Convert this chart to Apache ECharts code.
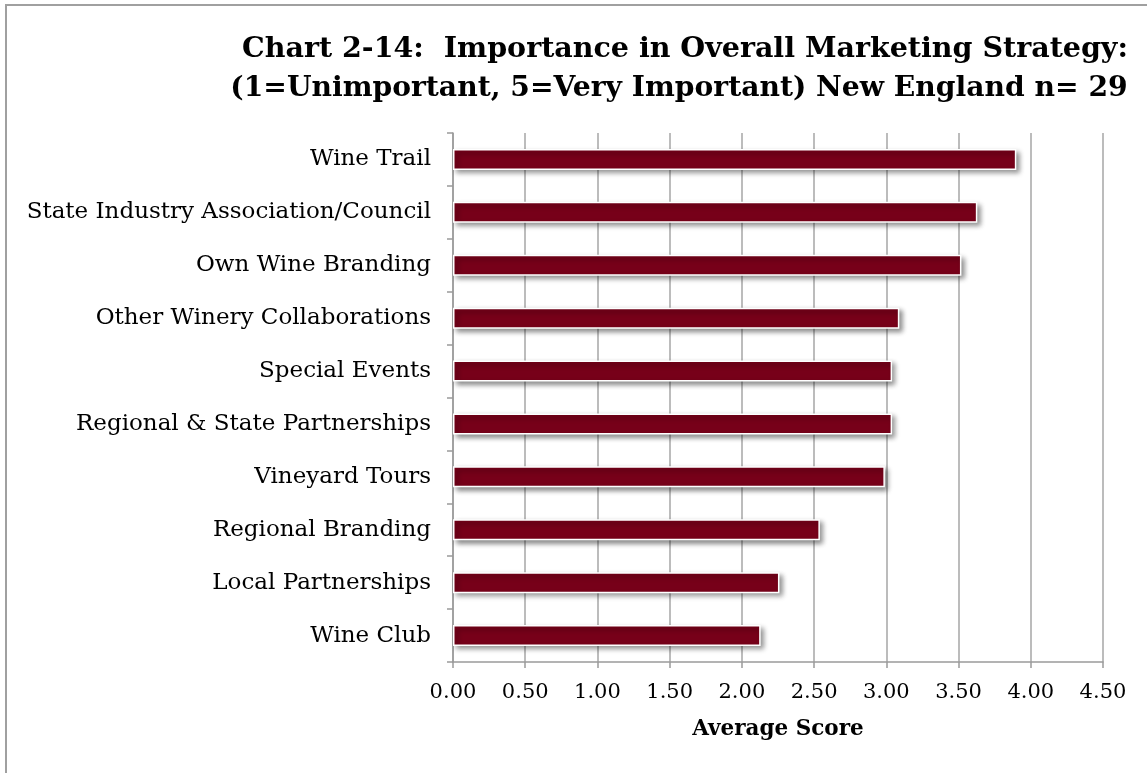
<!DOCTYPE html>
<html>
<head>
<meta charset="utf-8">
<script src="https://cdn.jsdelivr.net/npm/echarts@6/dist/echarts.min.js"></script>
<style>
  html, body { margin: 0; padding: 0; background: #fff; }
  #chart { width: 1147px; height: 773px; }
</style>
</head>
<body>
<div id="chart"></div>
<script>
// Marketing channels, listed top to bottom
const categories = [
  'Wine Trail',
  'State Industry Association/Council',
  'Own Wine Branding',
  'Other Winery Collaborations',
  'Special Events',
  'Regional & State Partnerships',
  'Vineyard Tours',
  'Regional Branding',
  'Local Partnerships',
  'Wine Club'
];
// Average importance score per channel
const scores = [3.90, 3.63, 3.52, 3.09, 3.04, 3.04, 2.99, 2.54, 2.26, 2.13];
const titleLines = [
  'Chart 2-14:  Importance in Overall Marketing Strategy:',
  '(1=Unimportant, 5=Very Important) New England n= 29'
];
const axisTitle = 'Average Score';

const serif = 'DejaVu Serif';
const titleStyle = size => ({
  fontFamily: serif,
  fontWeight: 'bold',
  fontSize: size,
  color: '#000'
});

const chart = echarts.init(document.getElementById('chart'));
chart.setOption({
  animation: false,
  backgroundColor: '#ffffff',
  title: [
    { text: titleLines[0], left: 680, top: 30, textAlign: 'center', textStyle: titleStyle(28.5) },
    { text: titleLines[1], left: 674, top: 70, textAlign: 'center', textStyle: titleStyle(28.2) }
  ],
  graphic: [{
    type: 'rect',
    shape: { x: 6, y: 5, width: 1200, height: 900 },
    style: { fill: 'none', stroke: '#a0a0a0', lineWidth: 2 },
    silent: true
  }],
  grid: { left: 453, right: 44, top: 133, bottom: 111 },
  xAxis: {
    type: 'value',
    min: 0,
    max: 4.5,
    interval: 0.5,
    name: axisTitle,
    nameLocation: 'middle',
    nameGap: 56,
    nameTextStyle: { fontFamily: serif, fontWeight: 'bold', fontSize: 21.5, color: '#000' },
    axisLine: { show: true, lineStyle: { color: '#9a9a9a', width: 1.5 } },
    axisTick: { show: true, length: 6, lineStyle: { color: '#9a9a9a', width: 1.5 } },
    axisLabel: {
      margin: 20,
      fontFamily: serif,
      fontSize: 21,
      color: '#000',
      formatter: v => v.toFixed(2)
    },
    splitLine: { show: true, lineStyle: { color: '#a6a6a6', width: 1.5 } }
  },
  yAxis: {
    type: 'category',
    inverse: true,
    data: categories,
    axisLine: { show: true, lineStyle: { color: '#9a9a9a', width: 1.5 } },
    axisTick: { show: true, length: 6, lineStyle: { color: '#9a9a9a', width: 1.5 } },
    axisLabel: { margin: 22, fontFamily: serif, fontSize: 23, color: '#000' }
  },
  series: [{
    type: 'bar',
    data: scores,
    barWidth: 21,
    itemStyle: {
      color: '#770019',
      borderColor: '#ffffff',
      borderWidth: 1.5,
      shadowColor: 'rgba(0,0,0,0.45)',
      shadowBlur: 5,
      shadowOffsetX: 3,
      shadowOffsetY: 3
    }
  }]
});
</script>
</body>
</html>
